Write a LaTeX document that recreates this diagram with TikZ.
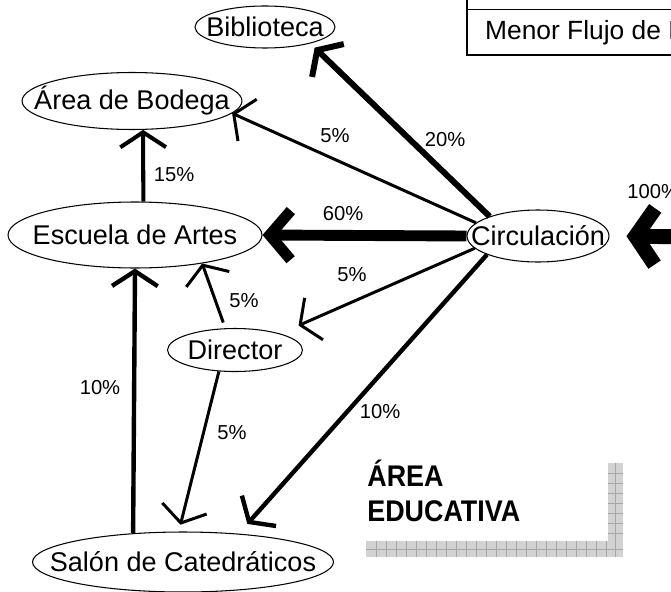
\documentclass[tikz,border=0pt]{standalone}
\usepackage{fontspec}
\setmainfont{Liberation Sans}
\newfontfamily\titlefont[FakeStretch=0.9]{Liberation Sans}
\usepackage{tikz}
\usetikzlibrary{arrows.meta, shapes.geometric}

\begin{document}
\begin{tikzpicture}[
            x=0.02cm, y=-0.02cm,
            >={Straight Barb[length=8.5pt,width=26pt]},
            % zones: ellipses of fixed size, name set as a centred label
            zona/.style   ={draw, ellipse, line width=0.6pt, inner sep=0pt,
                            label={[font=\fontsize{15.4}{18}\selectfont, inner sep=0pt]center:#1}},
            pct/.style    ={font=\fontsize{11.5}{13}\selectfont},
            % flows: open barbs, width grows with the share
            flujo5/.style ={->, line width=1.7pt},
            flujo10/.style={->, line width=2.5pt},
            flujo15/.style={->, line width=2.3pt},
            flujo20/.style={->, line width=3.4pt},
            flujo60/.style={-{Straight Barb[length=12pt,width=28pt]}, line width=6.2pt},
            flujo100/.style={-{Straight Barb[length=11pt,width=32pt]}, line width=8.5pt},
            rejilla/.style={draw=gray!70, line width=0.4pt}
        ]
        \useasboundingbox (0,0) rectangle (671,591);
        \clip (0,0) rectangle (671,591);

        %% ===== legend box (cut by the frame) =====
        \draw[line width=0.7pt] (467,-5) -- (467,55) -- (700,55);
        \draw[line width=0.7pt] (467,9.5) -- (700,9.5);
        \node[anchor=west, font=\fontsize{15}{18}\selectfont] (leyenda) at (479,33) {Menor Flujo de P};

        %% ===== zones =====
        \node[zona={Biblioteca},            minimum width=2.8cm,  minimum height=0.84cm] (bib)  at (265,27)  {};
        \node[zona={Área de Bodega},        minimum width=4.4cm,  minimum height=1.14cm] (bod)  at (132,101) {};
        \node[zona={Escuela de Artes},      minimum width=5.08cm, minimum height=1.32cm] (esc)  at (135,235) {};
        \node[zona={Circulación},           minimum width=2.84cm, minimum height=1.04cm] (circ) at (538,236) {};
        \node[zona={Director},              minimum width=2.7cm,  minimum height=0.86cm] (dir)  at (235,350) {};
        \node[zona={Salón de Catedráticos}, minimum width=6.02cm, minimum height=1.2cm]  (sal)  at (183,562) {};
        \coordinate (entrada) at (700,237);

        %% ===== flows =====
        \draw[flujo100, shorten >=0.34cm] (entrada) -- (circ.east);
        \draw[flujo20, shorten >=0.12cm] (circ.158) -- (bib.-20);
        \draw[flujo5] (circ.168) -- (bod.-7);
        \draw[flujo60] (circ.west) -- (esc.east);
        \draw[flujo5, shorten >=0.4cm] (circ.191) -- (dir.20);
        \draw[flujo10, shorten >=0.26cm] (circ.200) -- (sal.27);
        \draw[flujo15] (esc.76) -- (bod.-69);
        \draw[flujo5, shorten <=0.12cm] (dir.114) -- (esc.-23);
        \draw[flujo5, shorten >=0.14cm] (dir.233) -- (sal.98);
        \draw[flujo10] (sal.150) -- (esc.south);

        %% ===== percentages =====
        \node[pct] (p20)  at (445,140) {20\%};
        \node[pct] (p5a)  at (335,136) {5\%};
        \node[pct] (p60)  at (343,214) {60\%};
        \node[pct] (p5b)  at (352,275) {5\%};
        \node[pct] (p10a) at (380,412) {10\%};
        \node[pct] (p15)  at (174,175) {15\%};
        \node[pct] (p5c)  at (244,301) {5\%};
        \node[pct] (p5d)  at (232,433) {5\%};
        \node[pct] (p10b) at (100,388) {10\%};
        \node[pct, anchor=west, inner sep=0pt] (p100) at (627,192) {100\%};

        %% ===== area title with shaded L =====
        \fill[gray!35] (608,463) rectangle (623,557);
        \fill[gray!35] (366,541) rectangle (623,557);
        \foreach \gx in {376,386,...,606}
            \draw[rejilla] (\gx,541) -- (\gx,557);
        \draw[rejilla] (366,549) -- (623,549);
        \foreach \gy in {473,483,...,533}
            \draw[rejilla] (608,\gy) -- (623,\gy);
        \draw[rejilla] (615.5,463) -- (615.5,557);
        \node[anchor=north west, align=left, inner sep=0pt,
              font=\titlefont\bfseries\fontsize{17}{20}\selectfont] (area) at (367,460) {ÁREA\\EDUCATIVA};

    \end{tikzpicture}
\end{document}
